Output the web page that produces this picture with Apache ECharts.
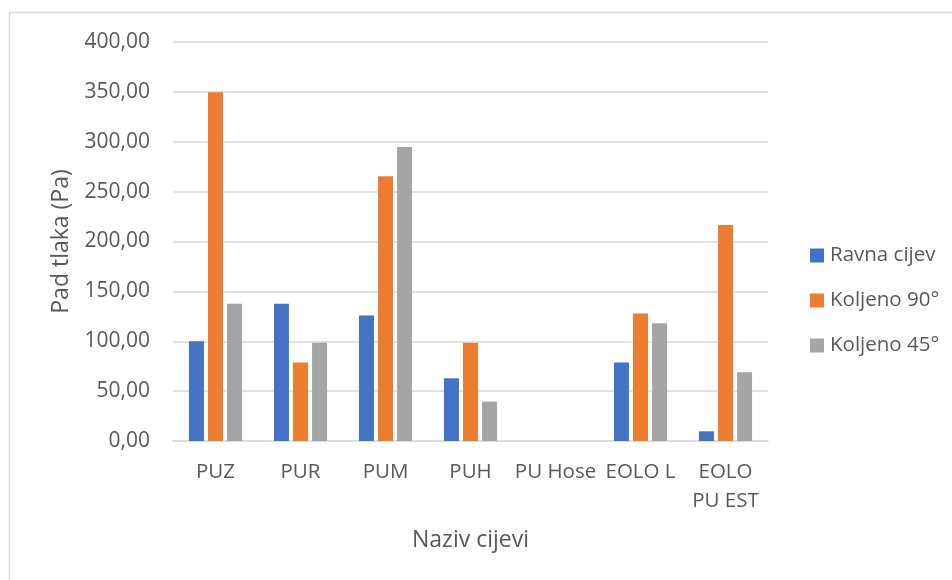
<!DOCTYPE html>
<html>
<head>
<meta charset="utf-8">
<script src="https://cdn.jsdelivr.net/npm/echarts@6/dist/echarts.min.js"></script>
<style>
  html, body { margin: 0; padding: 0; background: #fff; }
  #chart { width: 952px; height: 580px; }
</style>
</head>
<body>
<div id="chart"></div>
<script>
// Pressure drop per hose type and fitting
const categories = ['PUZ', 'PUR', 'PUM', 'PUH', 'PU Hose', 'EOLO L', 'EOLO\nPU EST'];
const ravnaCijev = [100.0, 137.5, 125.9, 62.9, 0, 78.7, 9.7];
const koljeno90 = [349.5, 78.7, 265.4, 98.4, 0, 127.9, 216.5];
const koljeno45 = [137.5, 98.4, 294.8, 39.5, 0, 118.0, 69.0];
const seriesNames = ['Ravna cijev', 'Koljeno 90°', 'Koljeno 45°'];
const colors = ['#4472c4', '#ed7d31', '#a5a5a5'];

const FONT = 'Open Sans';
const TEXT = '#595959';

const chart = echarts.init(document.getElementById('chart'));

function barSeries(name, data, color) {
  return {
    name: name,
    type: 'bar',
    data: data,
    barWidth: 15,
    barGap: '27%',
    itemStyle: { color: color },
    emphasis: { disabled: true }
  };
}

chart.setOption({
  animation: false,
  color: colors,
  graphic: [{
    type: 'rect',
    shape: { x: 9.5, y: 12.5, width: 1000, height: 600 },
    style: { fill: 'none', stroke: '#d9d9d9', lineWidth: 1.5 },
    silent: true
  }],
  grid: { left: 173, right: 184, top: 42, bottom: 139, containLabel: false },
  legend: {
    orient: 'vertical',
    left: 810,
    top: 245,
    padding: 0,
    itemWidth: 14,
    itemHeight: 14,
    itemGap: 24,
    icon: 'rect',
    textStyle: { fontFamily: FONT, fontSize: 20.5, color: TEXT, padding: [0, 0, 0, 1] },
    data: seriesNames
  },
  xAxis: {
    type: 'category',
    data: categories,
    name: 'Naziv cijevi',
    nameLocation: 'middle',
    nameGap: 88,
    nameTextStyle: { fontFamily: FONT, fontSize: 23, color: TEXT },
    axisLine: { lineStyle: { color: '#d9d9d9', width: 1.5 } },
    axisTick: { show: false },
    axisLabel: {
      fontFamily: FONT, fontSize: 20.5, color: TEXT, margin: 17,
      lineHeight: 29, interval: 0
    }
  },
  yAxis: {
    type: 'value',
    min: 0,
    max: 400,
    interval: 50,
    name: 'Pad tlaka (Pa)',
    nameLocation: 'middle',
    nameGap: 100,
    nameTextStyle: { fontFamily: FONT, fontSize: 23, color: TEXT },
    axisLine: { show: false },
    axisTick: { show: false },
    splitLine: { lineStyle: { color: '#d9d9d9', width: 1.5 } },
    axisLabel: {
      fontFamily: FONT, fontSize: 21, color: TEXT, margin: 23,
      formatter: v => v.toFixed(2).replace('.', ',')
    }
  },
  series: [
    barSeries(seriesNames[0], ravnaCijev, colors[0]),
    barSeries(seriesNames[1], koljeno90, colors[1]),
    barSeries(seriesNames[2], koljeno45, colors[2])
  ]
});
</script>
</body>
</html>
